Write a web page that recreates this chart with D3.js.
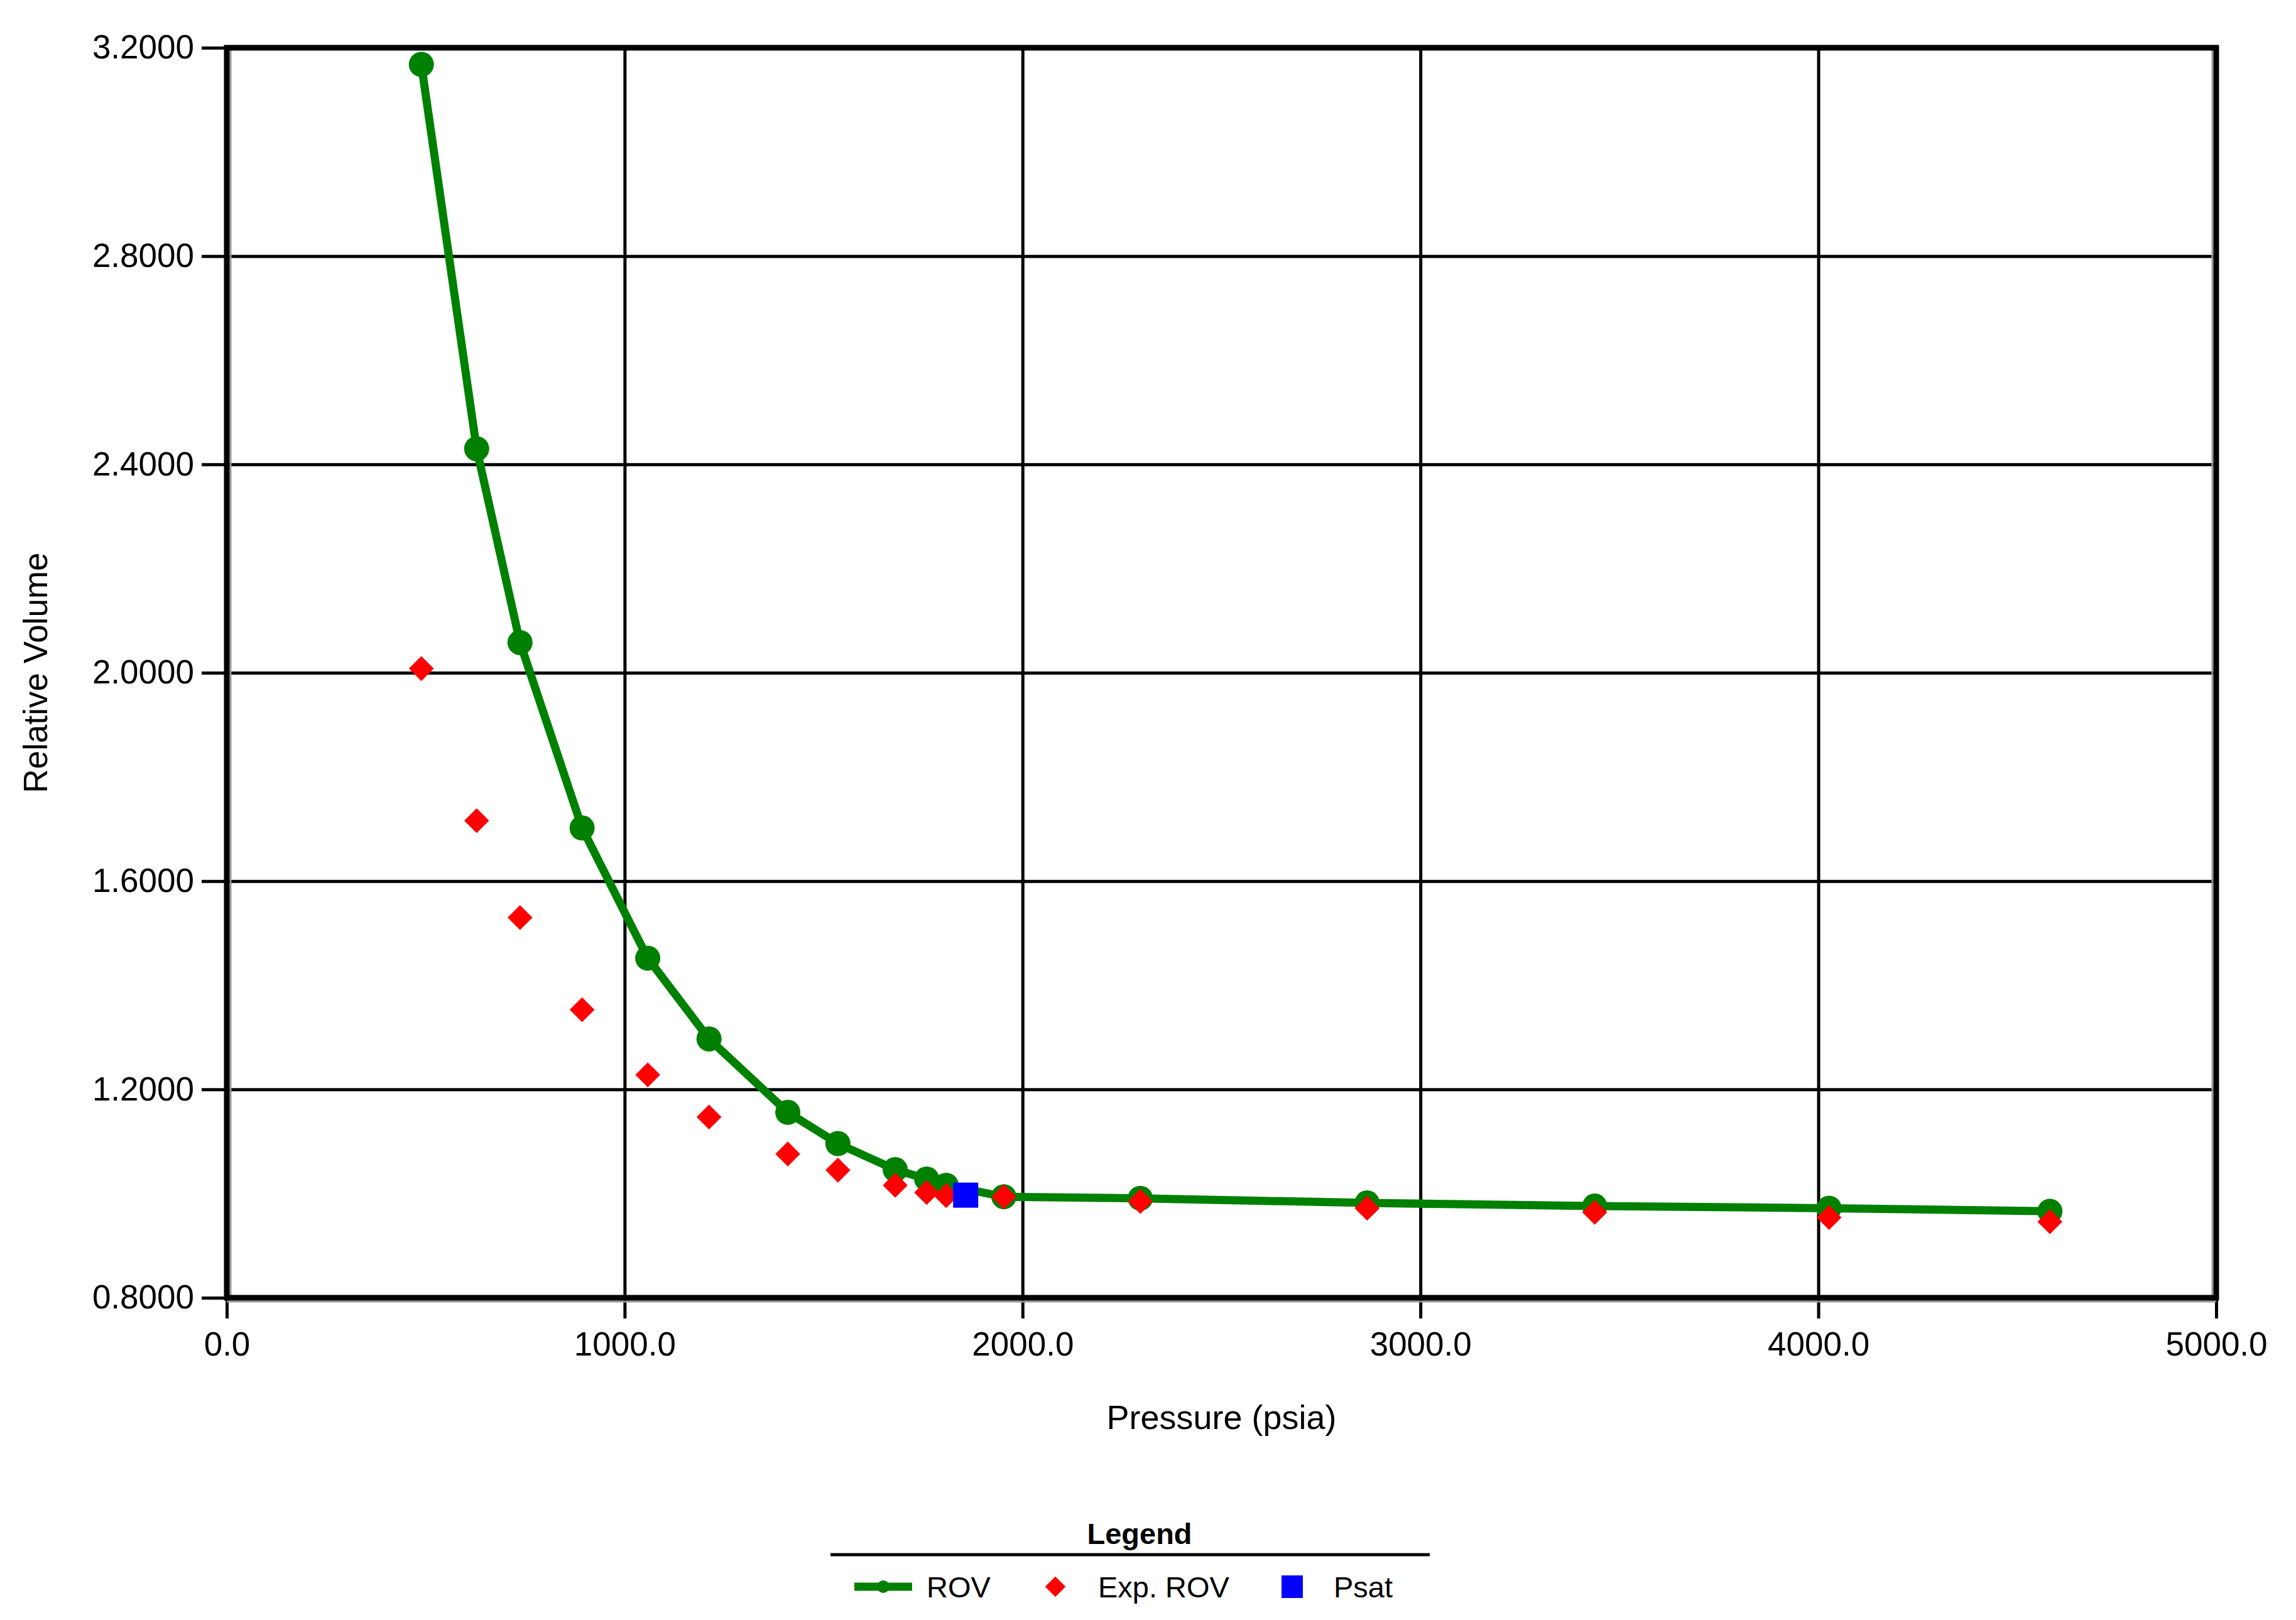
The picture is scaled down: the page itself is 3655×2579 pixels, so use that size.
<!DOCTYPE html>
<html>
<head>
<meta charset="utf-8">
<script src="https://cdn.jsdelivr.net/npm/d3@7/dist/d3.min.js"></script>
<style>
  html, body { margin: 0; padding: 0; background: #ffffff; }
  svg { display: block; font-family: "Liberation Sans", Arial, sans-serif; }
</style>
</head>
<body>
<script>
// ---- Data ----
const pressure = [489, 628, 737, 893, 1058, 1212, 1410, 1536, 1680, 1759, 1808, 1953, 2296, 2866, 3438, 4027, 4582];
const rovValues = [3.168, 2.430, 2.058, 1.702, 1.452, 1.297, 1.156, 1.096, 1.046, 1.028, 1.016, 0.994, 0.991, 0.982, 0.976, 0.972, 0.966];
const expRovValues = [2.008, 1.716, 1.530, 1.353, 1.228, 1.147, 1.076, 1.045, 1.016, 1.002, 0.996, 0.994, 0.985, 0.972, 0.964, 0.954, 0.946];
const psatPressure = [1857];
const psatValue = [0.997];
const xTicks = [0, 1000, 2000, 3000, 4000, 5000];
const yTicks = [0.8, 1.2, 1.6, 2.0, 2.4, 2.8, 3.2];
const xTitle = "Pressure (psia)";
const yTitle = "Relative Volume";
const legendTitle = "Legend";
const seriesNames = ["ROV", "Exp. ROV", "Psat"];
const seriesColors = ["#008000", "#ff0000", "#0000ff"];

// ---- Layout ----
const W = 3655, H = 2579;
const L = 361, R = 3528, T = 76, B = 2066;

const svg = d3.select("body").append("svg").attr("width", W).attr("height", H);

const x = d3.scaleLinear().domain([0, 5000]).range([L, R]);
const y = d3.scaleLinear().domain([0.8, 3.2]).range([B, T]);

// Gridlines
const gx = svg.append("g").attr("transform", `translate(0,${B})`)
  .call(d3.axisBottom(x).tickValues(xTicks).tickSize(-(B - T)).tickFormat(""));
gx.select(".domain").remove();
gx.selectAll("line").attr("stroke", "#000").attr("stroke-width", 5);

const gy = svg.append("g").attr("transform", `translate(${L},0)`)
  .call(d3.axisLeft(y).tickValues(yTicks).tickSize(-(R - L)).tickFormat(""));
gy.select(".domain").remove();
gy.selectAll("line").attr("stroke", "#000").attr("stroke-width", 5);

// Outer ticks + labels
const ax = svg.append("g").attr("transform", `translate(0,${B})`)
  .call(d3.axisBottom(x).tickValues(xTicks).tickSize(33).tickPadding(21).tickFormat(d3.format(".1f")));
ax.select(".domain").remove();
ax.selectAll("line").attr("stroke", "#000").attr("stroke-width", 5);
ax.selectAll("text").attr("fill", "#000").attr("font-size", 53)
  .attr("font-family", "Liberation Sans, Arial, sans-serif");

const ay = svg.append("g").attr("transform", `translate(${L},0)`)
  .call(d3.axisLeft(y).tickValues(yTicks).tickSize(40).tickPadding(12).tickFormat(d3.format(".4f")));
ay.select(".domain").remove();
ay.selectAll("line").attr("stroke", "#000").attr("stroke-width", 5);
ay.selectAll("text").attr("fill", "#000").attr("font-size", 53)
  .attr("font-family", "Liberation Sans, Arial, sans-serif");

// Frame
svg.append("line").attr("x1", L + 6).attr("x2", L + 6).attr("y1", T).attr("y2", B).attr("stroke", "#999").attr("stroke-width", 3);
svg.append("line").attr("x1", R - 6).attr("x2", R - 6).attr("y1", T).attr("y2", B).attr("stroke", "#999").attr("stroke-width", 3);
svg.append("line").attr("x1", L).attr("x2", R).attr("y1", B + 6).attr("y2", B + 6).attr("stroke", "#999").attr("stroke-width", 3);
svg.append("rect").attr("x", L).attr("y", T).attr("width", R - L).attr("height", B - T)
  .attr("fill", "none").attr("stroke", "#000").attr("stroke-width", 9);

// Axis titles
svg.append("text").attr("x", (L + R) / 2).attr("y", 2275).attr("text-anchor", "middle")
  .attr("font-size", 54).attr("fill", "#000").text(xTitle);
svg.append("text").attr("transform", `translate(75,${(T + B) / 2}) rotate(-90)`).attr("text-anchor", "middle")
  .attr("font-size", 53).attr("fill", "#000").text(yTitle);

// Series
const rovData = pressure.map((p, i) => ({ p, v: rovValues[i] }));
const expData = pressure.map((p, i) => ({ p, v: expRovValues[i] }));
const psatData = psatPressure.map((p, i) => ({ p, v: psatValue[i] }));

const line = d3.line().x(d => x(d.p)).y(d => y(d.v));
svg.append("path").datum(rovData).attr("d", line).attr("fill", "none")
  .attr("stroke", seriesColors[0]).attr("stroke-width", 13).attr("stroke-linejoin", "round");
svg.append("g").selectAll("circle").data(rovData).join("circle")
  .attr("cx", d => x(d.p)).attr("cy", d => y(d.v)).attr("r", 20).attr("fill", seriesColors[0]);

const diamond = d3.symbol().type(d3.symbolSquare).size(28 * 28);
svg.append("g").selectAll("path").data(expData).join("path")
  .attr("transform", d => `translate(${x(d.p)},${y(d.v)}) rotate(45)`)
  .attr("d", diamond()).attr("fill", seriesColors[1]);

svg.append("g").selectAll("rect").data(psatData).join("rect")
  .attr("x", d => x(d.p) - 20).attr("y", d => y(d.v) - 20).attr("width", 40).attr("height", 40)
  .attr("fill", seriesColors[2]);

// Legend
const lg = svg.append("g");
lg.append("text").attr("x", 1814).attr("y", 2458).attr("text-anchor", "middle")
  .attr("font-size", 47).attr("font-weight", "bold").attr("fill", "#000").text(legendTitle);
lg.append("line").attr("x1", 1322).attr("x2", 2276).attr("y1", 2475).attr("y2", 2475)
  .attr("stroke", "#000").attr("stroke-width", 5);

const ly = 2526;
lg.append("line").attr("x1", 1360).attr("x2", 1452).attr("y1", ly).attr("y2", ly)
  .attr("stroke", seriesColors[0]).attr("stroke-width", 13);
lg.append("circle").attr("cx", 1406).attr("cy", ly).attr("r", 10).attr("fill", seriesColors[0]);
lg.append("path").attr("transform", `translate(1680,${ly}) rotate(45)`)
  .attr("d", d3.symbol().type(d3.symbolSquare).size(23 * 23)()).attr("fill", seriesColors[1]);
lg.append("rect").attr("x", 2040).attr("y", ly - 18).attr("width", 34).attr("height", 36).attr("fill", seriesColors[2]);

const labelX = [1475, 1748, 2123];
seriesNames.forEach((n, i) => {
  lg.append("text").attr("x", labelX[i]).attr("y", 2543).attr("font-size", 47)
    .attr("fill", "#000").text(n);
});
</script>
</body>
</html>
